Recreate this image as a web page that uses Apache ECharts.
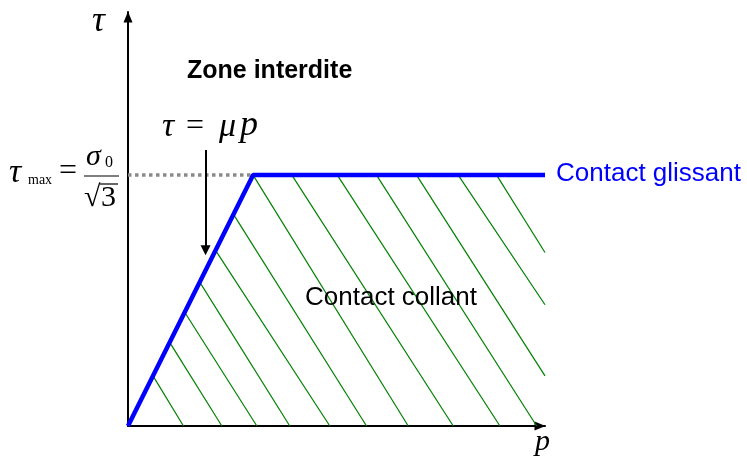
<!DOCTYPE html>
<html>
<head>
<meta charset="utf-8">
<script src="https://cdn.jsdelivr.net/npm/echarts@6/dist/echarts.min.js"></script>
<style>
  html, body { margin: 0; padding: 0; background: #fff; }
  #main { width: 747px; height: 459px; }
</style>
</head>
<body>
<div id="main"></div>
<script>
// friction law: tau = mu*p up to tau_max, then constant
const slipP = [0, 3, 10];
const slipTau = [0, 6, 6];
const tauMaxP = [0, 3];
const tauMaxTau = [6, 6];
// hatch lines in the sticking zone (start / end, p and tau)
const hatchStartP = [0.6, 1.0, 1.36, 1.72, 2.1, 2.53, 3.0, 3.93, 5.02, 5.96, 6.92, 7.92, 8.84];
const hatchStartTau = [1.2, 2.0, 2.72, 3.44, 4.2, 5.06, 6, 6, 6, 6, 6, 6, 6];
const hatchEndP = [1.33, 2.25, 3.09, 3.88, 4.84, 5.72, 6.72, 7.8, 8.92, 9.8, 10, 10, 10];
const hatchEndTau = [0, 0, 0, 0, 0, 0, 0, 0, 0, 0, 1.2, 2.9, 4.15];
const arrowP = [1.86, 1.86];
const arrowTau = [6.6, 4.2];

const chartDom = document.getElementById('main');
const myChart = echarts.init(chartDom);
let option;

let hatchData = [];
for (let i = 0; i < hatchStartP.length; i++) {
  hatchData.push({
    coords: [
      [hatchStartP[i], hatchStartTau[i]],
      [hatchEndP[i], hatchEndTau[i]],
    ],
  });
}

const serif = '"Liberation Serif", "DejaVu Serif", serif';
const sans = '"Liberation Sans", Arial, sans-serif';

function txt(text, x, y, font, fill) {
  return {
    type: 'text',
    x: x,
    y: y,
    z: 10,
    style: { text: text, font: font, fill: fill || '#000', verticalAlign: 'middle' },
  };
}

option = {
  backgroundColor: '#fff',
  animation: false,
  grid: { left: 128, right: 202, top: 12, bottom: 33 },
  xAxis: {
    type: 'value',
    min: 0,
    max: 10,
    axisLine: {
      show: true,
      symbol: ['none', 'triangle'],
      symbolSize: [9, 11],
      symbolOffset: [0, -5],
      lineStyle: { color: '#000', width: 2 },
    },
    axisTick: { show: false },
    axisLabel: { show: false },
    splitLine: { show: false },
  },
  yAxis: {
    type: 'value',
    min: 0,
    max: 9.9,
    axisLine: {
      show: true,
      symbol: ['none', 'triangle'],
      symbolSize: [9, 11],
      symbolOffset: [0, -5],
      lineStyle: { color: '#000', width: 2 },
    },
    axisTick: { show: false },
    axisLabel: { show: false },
    splitLine: { show: false },
  },
  series: [
    {
      name: 'hatch',
      type: 'lines',
      coordinateSystem: 'cartesian2d',
      z: 1,
      lineStyle: { color: '#008000', width: 1.2, opacity: 1 },
      data: hatchData,
    },
    {
      name: 'tauMax',
      type: 'line',
      z: 2,
      symbol: 'none',
      lineStyle: { color: '#8a8a8a', width: 3.5, type: [3.5, 3.5] },
      data: tauMaxP.map((p, i) => [p, tauMaxTau[i]]),
    },
    {
      name: 'slip',
      type: 'line',
      z: 3,
      symbol: 'none',
      lineStyle: { color: '#0000ff', width: 4.5 },
      data: slipP.map((p, i) => [p, slipTau[i]]),
    },
    {
      name: 'arrow',
      type: 'lines',
      coordinateSystem: 'cartesian2d',
      z: 4,
      symbol: ['none', 'triangle'],
      symbolSize: [9, 10],
      lineStyle: { color: '#000', width: 2, opacity: 1 },
      data: [{ coords: [[arrowP[0], arrowTau[0]], [arrowP[1], arrowTau[1]]] }],
    },
  ],
  graphic: [
    txt('τ', 92, 22, 'italic 36px ' + serif),
    txt('Zone interdite', 187, 71, 'bold 25px ' + sans),
    txt('τ', 162, 127, 'italic 34px ' + serif),
    txt('=', 186, 127, '32px ' + serif),
    txt('μ', 219, 127, 'italic 34px ' + serif),
    txt('p', 240, 126, 'italic 36px ' + serif),
    txt('Contact glissant', 556, 174, '26px ' + sans, '#0000ff'),
    txt('Contact collant', 305, 298, '26px ' + sans),
    txt('p', 535, 442, 'italic 30px ' + serif),
    // tau_max = sigma_0 / sqrt(3)
    txt('τ', 9, 173, 'italic 34px ' + serif),
    txt('max', 28, 180.5, '14px ' + serif),
    txt('=', 59, 172, '32px ' + serif),
    txt('σ', 86, 157, 'italic 30px ' + serif),
    txt('0', 105, 163, '16px ' + serif),
    txt('√', 84, 198, '30px ' + serif),
    txt('3', 101, 198, '30px ' + serif),
    {
      type: 'line',
      z: 10,
      shape: { x1: 84, y1: 176, x2: 119, y2: 176 },
      style: { stroke: '#000', lineWidth: 1.2 },
    },
    {
      type: 'line',
      z: 10,
      shape: { x1: 100, y1: 184, x2: 118, y2: 184 },
      style: { stroke: '#000', lineWidth: 1.2 },
    },
  ],
};

option && myChart.setOption(option);
</script>
</body>
</html>
